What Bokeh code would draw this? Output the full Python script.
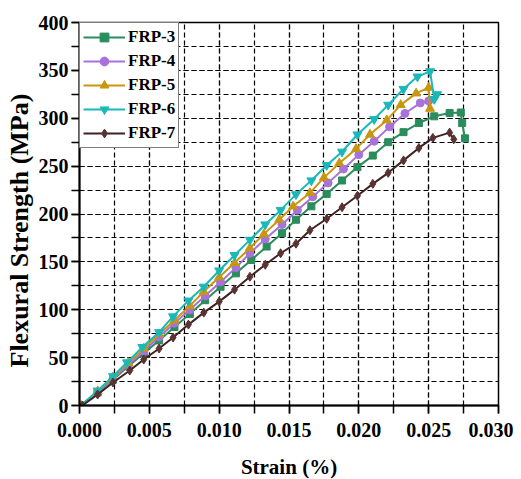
from bokeh.plotting import figure
from bokeh.models import (Range1d, SingleIntervalTicker, PrintfTickFormatter,
                          Legend, LegendItem, Title)
from bokeh.embed import file_html
from bokeh.resources import INLINE

# ---- data (strain, stress) ----
frp3_x = [0.0001, 0.0013, 0.0024, 0.0035, 0.0046, 0.0057, 0.0068, 0.0079, 0.0090, 0.0101,
          0.0112, 0.0123, 0.0134, 0.0145, 0.0155, 0.0166, 0.0177, 0.0188, 0.0199, 0.0210,
          0.0221, 0.0232, 0.0243, 0.0254, 0.0265, 0.0273, 0.0274, 0.0276]
frp3_y = [0, 13.5, 27, 41, 54.5, 68, 82, 95.5, 110, 124,
          138, 152, 166, 180, 194, 208, 221, 235, 249, 261,
          275, 285.5, 295, 302, 305.5, 306, 295, 279]

frp4_x = [0.0001, 0.0013, 0.0024, 0.0035, 0.0046, 0.0057, 0.0068, 0.0079, 0.0090, 0.0101,
          0.0112, 0.0122, 0.0133, 0.0145, 0.0156, 0.0167, 0.0178, 0.0189, 0.0200, 0.0211,
          0.0222, 0.0233, 0.0244, 0.0250]
frp4_y = [0, 14, 28, 42.5, 57, 71.5, 86, 100, 114.5, 129,
          144, 159, 174, 189, 204, 218, 232.5, 247, 262, 276,
          291, 305, 316, 318]

frp5_x = [0.0001, 0.0013, 0.0024, 0.0035, 0.0046, 0.0057, 0.0068, 0.0079, 0.0089, 0.0100,
          0.0111, 0.0122, 0.0132, 0.0143, 0.0153, 0.0165, 0.0175, 0.0186, 0.0198, 0.0208,
          0.0220, 0.0230, 0.0241, 0.0250, 0.0251]
frp5_y = [0, 15, 29.5, 44.5, 59.5, 74.5, 89, 104, 119, 134,
          149, 164.5, 179, 194, 208, 222, 238, 253, 268, 283,
          298, 314, 326, 332, 310]

frp6_x = [0.0001, 0.0013, 0.0024, 0.0034, 0.0045, 0.0057, 0.0067, 0.0078, 0.0089, 0.0100,
          0.0111, 0.0122, 0.0133, 0.0144, 0.0155, 0.0166, 0.0177, 0.0188, 0.0199, 0.0211,
          0.0221, 0.0232, 0.0242, 0.0251, 0.0254, 0.0256]
frp6_y = [0, 15.5, 30.5, 45, 61, 76.5, 93, 109.5, 124, 141,
          157, 173, 189, 204, 220.5, 235, 251, 265, 283, 299,
          314, 330.5, 343.5, 349, 320, 325]

frp7_x = [0.0002, 0.0013, 0.0024, 0.0036, 0.0046, 0.0057, 0.0067, 0.0078, 0.0089, 0.0100,
          0.0111, 0.0122, 0.0133, 0.0144, 0.0155, 0.0165, 0.0177, 0.0188, 0.0199, 0.0210,
          0.0221, 0.0232, 0.0243, 0.0253, 0.0265, 0.0268]
frp7_y = [0, 11.5, 24, 36.5, 48, 59.5, 71, 84.5, 97, 108.5,
          121, 134.5, 147, 159, 169, 183, 195, 207, 219, 231.5,
          243, 256, 269, 279.5, 285, 278]

names = ["FRP-3", "FRP-4", "FRP-5", "FRP-6", "FRP-7"]
xs = [frp3_x, frp4_x, frp5_x, frp6_x, frp7_x]
ys = [frp3_y, frp4_y, frp5_y, frp6_y, frp7_y]
colors = ["#2b8c5c", "#a872dc", "#c8960f", "#1bb8ba", "#5a3232"]
line_colors = ["#2b8c5c", "#a872dc", "#c8960f", "#1bb8ba", "#3e2222"]
markers = ["square", "circle", "triangle", "inverted_triangle", "diamond"]
sizes = [7, 8, 9, 9, 9]

x_label = "Strain (%)"
y_label = "Flexural Strength (MPa)"

FONT = "Times"

p = figure(frame_width=419, frame_height=383, output_backend="svg", toolbar_location=None,
           x_range=Range1d(0, 0.030), y_range=Range1d(0, 400),
           min_border_left=0, min_border_right=15, min_border_top=22, min_border_bottom=62)
p.outline_line_color = "black"
p.outline_line_width = 1.5
p.background_fill_color = "white"
p.border_fill_color = "white"

p.xaxis.ticker = SingleIntervalTicker(interval=0.005, num_minor_ticks=2)
p.yaxis.ticker = SingleIntervalTicker(interval=50, num_minor_ticks=2)
p.xaxis.formatter = PrintfTickFormatter(format="%.3f")

for ax in (p.xaxis[0], p.yaxis[0]):
    ax.axis_line_width = 2
    ax.major_tick_line_width = 1.5
    ax.minor_tick_line_width = 1.5
    ax.major_tick_out = 8
    ax.major_tick_in = 0
    ax.minor_tick_out = 8
    ax.minor_tick_in = 0
    ax.major_label_text_font = FONT
    ax.major_label_text_font_style = "bold"
    ax.major_label_text_font_size = "20px"
    ax.major_label_text_color = "black"
    ax.axis_label_text_font = FONT
    ax.axis_label_text_font_style = "bold"
    ax.axis_label_text_color = "black"

p.xaxis.axis_label = x_label
p.xaxis.axis_label_text_font_size = "21px"
p.xaxis.axis_label_standoff = 15
p.xaxis.major_label_standoff = 9
p.yaxis.major_label_standoff = 3

ytitle = Title(text=y_label, align="left", text_font=FONT, text_font_style="bold",
               text_font_size="26px", text_color="black", standoff=4, offset=38)
p.add_layout(ytitle, "left")

for g in (p.xgrid[0], p.ygrid[0]):
    g.grid_line_color = "black"
    g.grid_line_dash = "5 3"
    g.grid_line_width = 1.2
    g.minor_grid_line_color = "black"
    g.minor_grid_line_dash = "5 3"
    g.minor_grid_line_width = 1.2

items = []
for n, x, y, c, lc, m, s in zip(names, xs, ys, colors, line_colors, markers, sizes):
    r1 = p.line(x, y, line_color=lc, line_width=2)
    r2 = p.scatter(x, y, marker=m, size=s, fill_color=c, line_color=c)
    items.append(LegendItem(label=n, renderers=[r1, r2]))

legend = Legend(items=items, location="top_left")
legend.label_text_font = FONT
legend.label_text_font_style = "bold"
legend.label_text_font_size = "17px"
legend.label_text_color = "black"
legend.glyph_width = 42
legend.glyph_height = 22
legend.label_height = 22
legend.label_standoff = 3
legend.spacing = 2
legend.padding = 3
legend.margin = 0
legend.border_line_color = "black"
legend.border_line_width = 1
legend.background_fill_alpha = 1
p.add_layout(legend)

open("out.html", "w").write(file_html(p, INLINE))
